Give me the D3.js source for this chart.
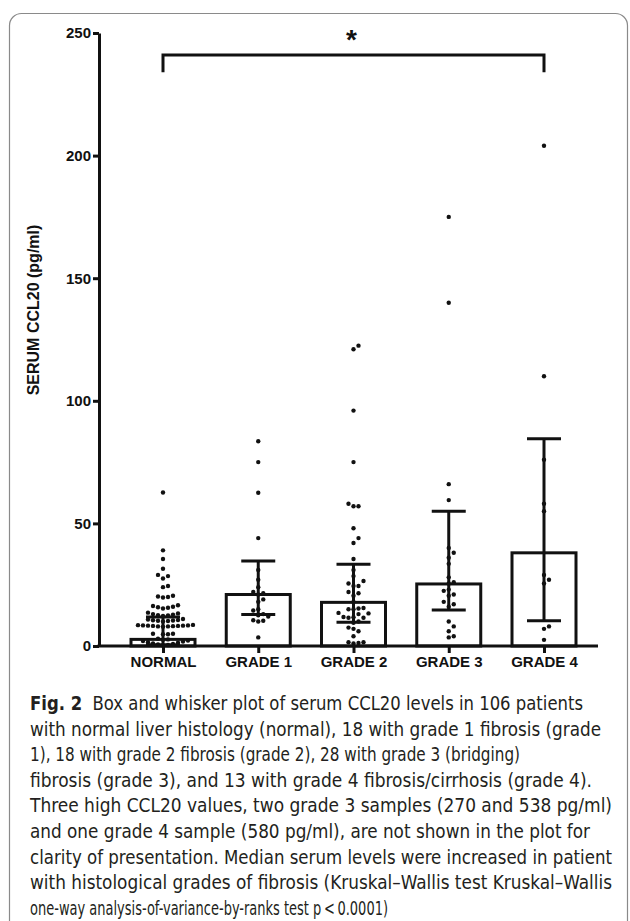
<!DOCTYPE html>
<html>
<head>
<meta charset="utf-8">
<script src="https://cdn.jsdelivr.net/npm/d3@7"></script>
<style>
  html, body { margin: 0; padding: 0; background: #fff; }
  svg { display: block; }
  .ax text { font-family: "Liberation Sans", Arial, sans-serif; font-weight: bold; font-size: 15px; fill: #111; }
  .cap { font-family: "Liberation Sans Narrow", "DejaVu Sans Condensed", "Open Sans", sans-serif; font-size: 19px; fill: #231f20; }
</style>
</head>
<body>
<svg id="fig" width="630" height="921"></svg>
<script>
// values (pg/ml)
const categories = ["NORMAL", "GRADE 1", "GRADE 2", "GRADE 3", "GRADE 4"];
const medians = [2.7, 21, 17.8, 25.3, 38];
const lowerBars = [0.5, 12.8, 9.7, 14.7, 10.3];
const upperBars = [11.8, 34.7, 33.3, 55, 84.5];
const yTicks = [0, 50, 100, 150, 200, 250];

const normalPts = [62.6, 39, 35.5, 31.5, 29, 28.5, 27.5, 24.5, 24, 20.5, 20.2, 20, 19.8,
  16.6, 16.3, 16, 15.8, 15.6, 15.3, 13.6, 13.3, 13, 12.8, 12.6, 12.5, 12.3,
  11, 10.8, 10.6, 10.5, 10.4, 10.3, 10.2, 10, 8.6, 8.5, 8.4, 8.4, 8.3, 8.3, 8.2,
  8.2, 8.1, 8, 8, 7.9, 5, 5, 4.8, 4.8, 3, 2.7, 2.5, 2.2, 2, 1.8, 1.5, 1.3,
  1, 0.8, 0.6, 0.4, 0.2];
const grade1Pts = [83.5, 75, 62.5, 44, 31, 27, 24, 22, 21.5, 21, 19, 18, 15, 14.5,
  13, 12.5, 12, 10.5, 10.3, 10, 3.5];
const grade2Pts = [122.5, 121, 96, 75, 58, 57, 57, 48, 44, 42, 35.5, 31, 28.5, 26.5,
  25.5, 24.5, 24.5, 22, 21.5, 20.5, 18, 15.5, 15.3, 15, 15, 13.5, 13.3, 13, 11.8,
  11.7, 11.5, 11.5, 10, 9.5, 7.5, 7, 6, 4, 1.5, 1.5, 1.2, 1];
const grade3Pts = [175, 140, 66, 59.5, 40, 38, 36, 33.5, 28, 26, 25.5, 23, 22.5, 21,
  20.5, 18, 17, 16, 10, 8, 6, 4, 3.5];
const grade4Pts = [204, 110, 76, 58, 55, 29, 27, 25.5, 8, 7, 2.5];
const groups = [normalPts, grade1Pts, grade2Pts, grade3Pts, grade4Pts];

const caption = [
  ["Fig. 2", "  Box and whisker plot of serum CCL20 levels in 106 patients", 553],
  ["", "with normal liver histology (normal), 18 with grade 1 fibrosis (grade", 571],
  ["", "1), 18 with grade 2 fibrosis (grade 2), 28 with grade 3 (bridging)", 490],
  ["", "fibrosis (grade 3), and 13 with grade 4 fibrosis/cirrhosis (grade 4).", 562],
  ["", "Three high CCL20 values, two grade 3 samples (270 and 538 pg/ml)", 582],
  ["", "and one grade 4 sample (580 pg/ml), are not shown in the plot for", 560],
  ["", "clarity of presentation. Median serum levels were increased in patient", 582],
  ["", "with histological grades of fibrosis (Kruskal\u2013Wallis test Kruskal\u2013Wallis", 582],
  ["", "one-way analysis-of-variance-by-ranks test p\u2009<\u20090.0001)", 358]
];

const svg = d3.select("#fig");
svg.append("rect").attr("x", 9.5).attr("y", 13.5).attr("width", 618).attr("height", 940)
  .attr("rx", 12).attr("fill", "#fff").attr("stroke", "#8a8a8a").attr("stroke-width", 1.2);

const y = d3.scaleLinear([0, 250], [646, 33]);
const x = d3.scalePoint(categories, [163, 544]);
const axisX0 = 99, axisX1 = 598, barW = 64, capW = 34, r = 2.2;
const LW = 3;

// bars
svg.append("g").selectAll("rect").data(categories).join("rect")
  .attr("x", (c) => x(c) - barW / 2).attr("width", barW)
  .attr("y", (c, i) => y(medians[i])).attr("height", (c, i) => y(0) - y(medians[i]))
  .attr("fill", "#fff").attr("stroke", "#111").attr("stroke-width", LW);

// whiskers + caps
const wk = svg.append("g").attr("stroke", "#111").attr("stroke-width", LW);
categories.forEach((c, i) => {
  wk.append("line").attr("x1", x(c)).attr("x2", x(c))
    .attr("y1", y(lowerBars[i])).attr("y2", y(upperBars[i]));
  [lowerBars[i], upperBars[i]].forEach((v) =>
    wk.append("line").attr("x1", x(c) - capW / 2).attr("x2", x(c) + capW / 2)
      .attr("y1", y(v)).attr("y2", y(v)));
});

// scatter dodge: spread equal-ish values sideways like a column scatter
function swarm(vals, cx) {
  const placed = [], step = 5, minD = 2 * r + 0.6;
  vals.slice().sort((a, b) => a - b).forEach((v) => {
    const py = y(v);
    for (let k = 0; k < 60; k++) {
      const off = k === 0 ? 0 : (k % 2 ? 1 : -1) * Math.ceil(k / 2) * step;
      const px = cx + off;
      if (placed.every((p) => Math.hypot(p[0] - px, p[1] - py) >= minD)) {
        placed.push([px, py]); break;
      }
    }
  });
  return placed;
}
const dots = svg.append("g").attr("fill", "#111");
categories.forEach((c, i) => {
  dots.selectAll(null).data(swarm(groups[i], x(c))).join("circle")
    .attr("cx", (p) => p[0]).attr("cy", (p) => p[1]).attr("r", r);
});

// axes
const yAx = svg.append("g").attr("class", "ax").attr("transform", `translate(${axisX0},0)`)
  .call(d3.axisLeft(y).tickValues(yTicks).tickSize(6).tickSizeOuter(0).tickPadding(2));
yAx.select(".domain").attr("stroke", "#111").attr("stroke-width", LW);
yAx.selectAll(".tick line").attr("stroke", "#111").attr("stroke-width", LW);

svg.append("line").attr("x1", axisX0 - 1.5).attr("x2", axisX1).attr("y1", y(0)).attr("y2", y(0))
  .attr("stroke", "#111").attr("stroke-width", LW);
const xAx = svg.append("g").attr("class", "ax").attr("transform", `translate(0,${y(0)})`)
  .call(d3.axisBottom(x).tickSize(7).tickPadding(3));
xAx.select(".domain").remove();
xAx.selectAll(".tick line").attr("stroke", "#111").attr("stroke-width", LW);

svg.append("text")
  .attr("transform", "translate(39,310) rotate(-90)")
  .attr("text-anchor", "middle")
  .style("font-family", "'Liberation Sans', Arial, sans-serif").style("font-weight", "bold")
  .style("font-size", "16px").attr("fill", "#111")
  .text("SERUM CCL20 (pg/ml)");

// significance bracket
const bTop = y(241), bLeg = y(234);
svg.append("path")
  .attr("d", `M${x(categories[0])},${bLeg}V${bTop}H${x(categories[4])}V${bLeg}`)
  .attr("fill", "none").attr("stroke", "#111").attr("stroke-width", LW);
svg.append("text").attr("x", (x(categories[0]) + x(categories[4])) / 2 - 2).attr("y", 49)
  .attr("text-anchor", "middle")
  .style("font-family", "'Liberation Sans', Arial, sans-serif").style("font-weight", "bold")
  .style("font-size", "28px").attr("fill", "#111").text("*");

// caption
const cap = svg.append("g");
caption.forEach((ln, i) => {
  const t = cap.append("text").attr("class", "cap").attr("x", 30).attr("y", 710 + i * 25.6)
    .attr("textLength", ln[2]).attr("lengthAdjust", "spacingAndGlyphs");
  if (ln[0]) t.append("tspan").style("font-weight", "bold").text(ln[0]);
  t.append("tspan").attr("xml:space", "preserve").text(ln[1]);
});
</script>
</body>
</html>
